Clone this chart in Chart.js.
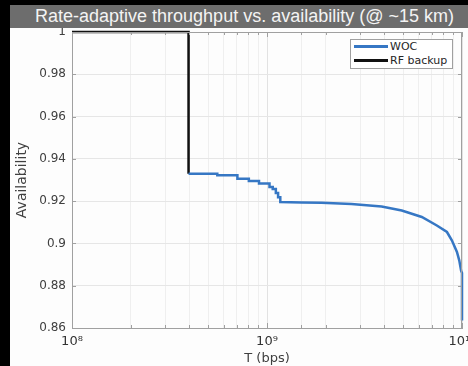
<!DOCTYPE html>
<html>
<head>
<meta charset="utf-8">
<script src="https://cdn.jsdelivr.net/npm/chart.js@4/dist/chart.umd.min.js"></script>
<style>
  body { margin: 0; background: #000; width: 468px; height: 366px; overflow: hidden; position: relative; }
  #fig { position: absolute; left: 10px; top: 5px; width: 458px; height: 361px; background: #fdfdfd; }
  #title { position: absolute; left: 0; top: 0; width: 458px; height: 23px; background: #6d6d6d; color: #f4f4f4;
           font: 18px "Liberation Sans", Arial, sans-serif; line-height: 23px; padding-left: 25px; box-sizing: border-box; white-space: nowrap; }
  #wrap { position: absolute; left: 0; top: 23px; width: 458px; height: 338px; }
  #legend { position: absolute; left: 340px; top: 11px; width: 101px; height: 28px; background: #fff; border: 1px solid #a0a0a0;
            font: 11px "DejaVu Sans", sans-serif; color: #262626; }
  .row { position: absolute; left: 3px; height: 14px; line-height: 14px; white-space: nowrap; }
  .smp { display: inline-block; width: 34px; height: 3px; vertical-align: middle; margin-right: 2px; position: relative; top: -1px; }
</style>
</head>
<body>
<div id="fig">
  <div id="title">Rate-adaptive throughput vs. availability (@ ~15 km)</div>
  <div id="wrap">
    <canvas id="plot" width="458" height="338"></canvas>
    <div id="legend">
      <div class="row" style="top:0px"><span class="smp" style="background:#3677c4"></span>WOC</div>
      <div class="row" style="top:14px"><span class="smp" style="background:#111"></span>RF backup</div>
    </div>
  </div>
</div>
<script>
// WOC: throughput (bps) vs availability (steps kept as pairs)
var wocT = [3.96e8, 5.56e8, 5.56e8, 7.05e8, 7.05e8, 8.07e8, 8.07e8, 9.1e8, 9.1e8, 1.03e9,
            1.03e9, 1.07e9, 1.07e9, 1.11e9, 1.11e9, 1.14e9, 1.14e9, 1.17e9, 1.17e9,
            1.5e9, 1.9e9, 2.71e9, 3.87e9, 4.91e9, 6.22e9, 7.43e9, 8.37e9, 8.87e9, 9.1e9,
            9.42e9, 9.68e9, 9.9e9, 1e10, 1e10];
var wocA = [0.933, 0.933, 0.9323, 0.9323, 0.9306, 0.9306, 0.9295, 0.9295, 0.9283, 0.9283,
            0.9267, 0.9267, 0.9258, 0.9258, 0.9239, 0.9239, 0.9219, 0.9219, 0.9196,
            0.9194, 0.9192, 0.9187, 0.9175, 0.9156, 0.9125, 0.9085, 0.9054, 0.9015, 0.8991,
            0.896, 0.892, 0.887, 0.886, 0.8636];
// RF backup
var rfT = [1e8, 3.96e8, 3.96e8];
var rfA = [1, 1, 0.933];

var yTicks = [0.86, 0.88, 0.9, 0.92, 0.94, 0.96, 0.98, 1];

function pts(xs, ys) {
  var out = [];
  for (var i = 0; i < xs.length; i++) out.push({x: xs[i], y: ys[i]});
  return out;
}

function isDecade(v) {
  var l = Math.log10(v);
  return Math.abs(l - Math.round(l)) < 1e-6;
}

var sup = {'0':'⁰','1':'¹','2':'²','3':'³','4':'⁴','5':'⁵','6':'⁶','7':'⁷','8':'⁸','9':'⁹'};
function decLabel(v) {
  var e = String(Math.round(Math.log10(v)));
  return '10' + e.split('').map(function (c) { return sup[c]; }).join('');
}

// box round the plot plus the small inward ticks
var boxPlugin = {
  id: 'box',
  afterDatasetsDraw: function (chart) {
    var ctx = chart.ctx, a = chart.chartArea;
    var xs = chart.scales.x, ys = chart.scales.y;
    ctx.save();
    ctx.strokeStyle = '#a0a0a0';
    ctx.lineWidth = 1;
    ctx.beginPath();
    ctx.moveTo(a.right - 0.5, a.top); ctx.lineTo(a.right - 0.5, a.bottom);
    ctx.moveTo(a.left, a.top + 0.5); ctx.lineTo(a.right, a.top + 0.5);
    xs.ticks.forEach(function (t) {
      var px = Math.round(xs.getPixelForValue(t.value)) + 0.5;
      var len = isDecade(t.value) ? 5 : 3;
      ctx.moveTo(px, a.bottom); ctx.lineTo(px, a.bottom - len);
      ctx.moveTo(px, a.top); ctx.lineTo(px, a.top + len);
    });
    ys.ticks.forEach(function (t) {
      var py = Math.round(ys.getPixelForValue(t.value)) + 0.5;
      ctx.moveTo(a.left, py); ctx.lineTo(a.left + 4, py);
      ctx.moveTo(a.right, py); ctx.lineTo(a.right - 4, py);
    });
    ctx.stroke();
    ctx.restore();
  }
};

var config = {
  type: 'line',
  data: {
    datasets: [
      {
        label: 'WOC',
        data: pts(wocT, wocA),
        borderColor: '#3677c4',
        borderWidth: 2.5,
        pointRadius: 0,
        fill: false,
        clip: 3
      },
      {
        label: 'RF backup',
        data: pts(rfT, rfA),
        borderColor: '#111111',
        borderWidth: 2.5,
        pointRadius: 0,
        fill: false,
        clip: 3
      }
    ]
  },
  options: {
    responsive: false,
    animation: false,
    layout: { padding: { top: 4, right: 6, left: 0, bottom: 0 } },
    plugins: { legend: { display: false }, tooltip: { enabled: false } },
    scales: {
      x: {
        type: 'logarithmic',
        min: 1e8,
        max: 1e10,
        grid: {
          drawTicks: false,
          color: function (c) { return (c.tick && isDecade(c.tick.value)) ? '#e2e2e2' : '#efefef'; }
        },
        border: { color: '#a0a0a0' },
        ticks: {
          autoSkip: false,
          maxRotation: 0,
          padding: 6,
          color: '#333333',
          font: { family: 'DejaVu Sans', size: 13 },
          callback: function (v) { return isDecade(v) ? decLabel(v) : ''; }
        },
        title: {
          display: true,
          text: 'T (bps)',
          color: '#404040',
          font: { family: 'DejaVu Sans', size: 13 },
          padding: { top: 0, bottom: 0 }
        },
        afterFit: function (s) { s.height = 38; s.paddingLeft = 0; s.paddingRight = 0; }
      },
      y: {
        min: 0.86,
        max: 1,
        grid: { drawTicks: false, color: '#e6e6e6' },
        border: { color: '#a0a0a0' },
        afterBuildTicks: function (s) { s.ticks = yTicks.map(function (v) { return {value: v}; }); },
        ticks: {
          padding: 6,
          color: '#404040',
          font: { family: 'DejaVu Sans', size: 12 },
          callback: function (v) { return String(Math.round(v * 100) / 100); }
        },
        title: {
          display: true,
          text: 'Availability',
          color: '#404040',
          font: { family: 'DejaVu Sans', size: 14 },
          padding: { top: 4, bottom: 0 }
        },
        afterFit: function (s) { s.width = 62; s.paddingTop = 0; s.paddingBottom = 0; }
      }
    }
  },
  plugins: [boxPlugin]
};

var plotCtx = document.getElementById('plot').getContext('2d');
var chart = new Chart(plotCtx, config);
</script>
</body>
</html>
